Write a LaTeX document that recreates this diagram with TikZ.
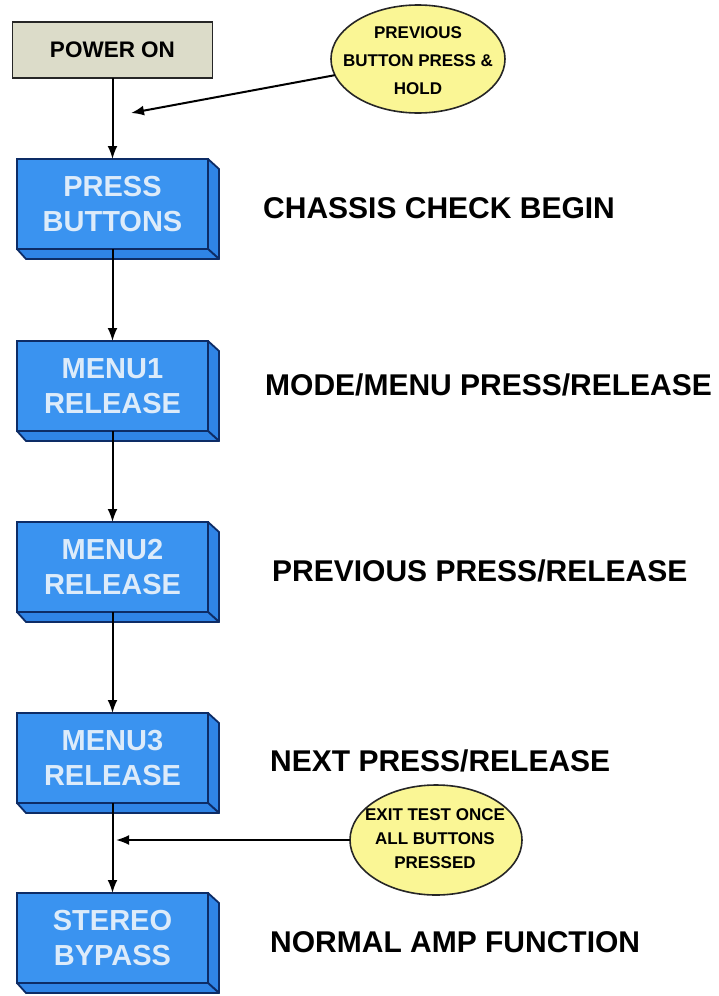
\documentclass[tikz,border=0pt]{standalone}
\usepackage{fontspec}
\setmainfont{Liberation Sans}
\usetikzlibrary{shapes.geometric,arrows.meta}
\definecolor{bluefront}{HTML}{3A93F0}
\definecolor{blueside}{HTML}{2F84E6}
\definecolor{blueline}{HTML}{0D2C66}
\definecolor{bluetext}{HTML}{DCEBFA}
\definecolor{powerfill}{HTML}{DCDCC9}
\definecolor{notefill}{HTML}{FAF695}
\newcommand\bevelslab[1]{%
  \filldraw[slabstyle] (#1.north east) -- ([shift={(11,10)}]#1.north east) -- ([shift={(11,10)}]#1.south east) -- (#1.south east) -- cycle;
  \filldraw[slabstyle] (#1.south west) -- (#1.south east) -- ([shift={(11,10)}]#1.south east) -- ([shift={(9,10)}]#1.south west) -- cycle;}
\begin{document}
\begin{tikzpicture}[x=1pt,y=-1pt,
  stepbox/.style={draw=blueline, line width=1.8pt, fill=bluefront, minimum width=191pt, minimum height=90pt,
    inner sep=0pt, outer sep=0pt, align=center, text=bluetext, font=\fontsize{29}{35}\selectfont\bfseries},
  slabstyle/.style={draw=blueline, line width=1.8pt, fill=blueside, line join=round},
  powerbox/.style={draw=black!85, line width=1.9pt, fill=powerfill, minimum width=200pt, minimum height=56pt,
    inner sep=0pt, outer sep=0pt, font=\fontsize{22.5}{27}\selectfont\bfseries},
  sidenote/.style={anchor=base west, inner sep=0pt, font=\fontsize{30}{36}\selectfont\bfseries},
  note/.style={ellipse, draw=black!85, line width=1.6pt, fill=notefill, inner sep=0pt, outer sep=0pt},
  notetext/.style={align=center, inner sep=0pt, font=\fontsize{17}{#1}\selectfont\bfseries},
  conn/.style={draw=black, line width=2pt, -{Latex[length=13pt,width=10pt]}}]
\fill[white] (0,0) rectangle (719,996);
\useasboundingbox (0,0) rectangle (719,996);

% main boxes
\node[powerbox] (power) at (112.5,50) {POWER ON};
\node[stepbox] (press) at (112.5,204) {PRESS\\BUTTONS};
\bevelslab{press}
\node[stepbox] (m1) at (112.5,386) {MENU1\\RELEASE};
\bevelslab{m1}
\node[stepbox] (m2) at (112.5,567) {MENU2\\RELEASE};
\bevelslab{m2}
\node[stepbox] (m3) at (112.5,758) {MENU3\\RELEASE};
\bevelslab{m3}
\node[stepbox] (stereo) at (112.5,938) {STEREO\\BYPASS};
\bevelslab{stereo}

% side descriptions
\node[sidenote] (d1) at (263,218) {CHASSIS CHECK BEGIN};
\node[sidenote] (d2) at (265,395) {MODE/MENU PRESS/RELEASE};
\node[sidenote] (d3) at (272,581) {PREVIOUS PRESS/RELEASE};
\node[sidenote] (d4) at (270,771) {NEXT PRESS/RELEASE};
\node[sidenote] (d5) at (270,952) {NORMAL AMP FUNCTION};

% notes
\node[note, minimum width=174pt, minimum height=108pt] (e1) at (418,59) {};
\node[notetext=28] (e1t) at (418,61) {PREVIOUS\\BUTTON PRESS \&\\HOLD};
\node[note, minimum width=172pt, minimum height=110pt] (e2) at (436,840) {};
\node[notetext=24] (e2t) at (435,839) {EXIT TEST ONCE\\ALL BUTTONS\\PRESSED};

% connectors
\draw[conn] (power.south) -- (press.north);
\draw[conn] (press.south) -- (m1.north);
\draw[conn] (m1.south) -- (m2.north);
\draw[conn] (m2.south) -- (m3.north);
\draw[conn] (m3.south) -- (stereo.north);
\coordinate (j1) at (131,113);
\draw[conn] (e1.191) -- (j1);
\coordinate (j2) at (116,840);
\draw[conn] (e2.west) -- (j2);
\end{tikzpicture}
\end{document}
